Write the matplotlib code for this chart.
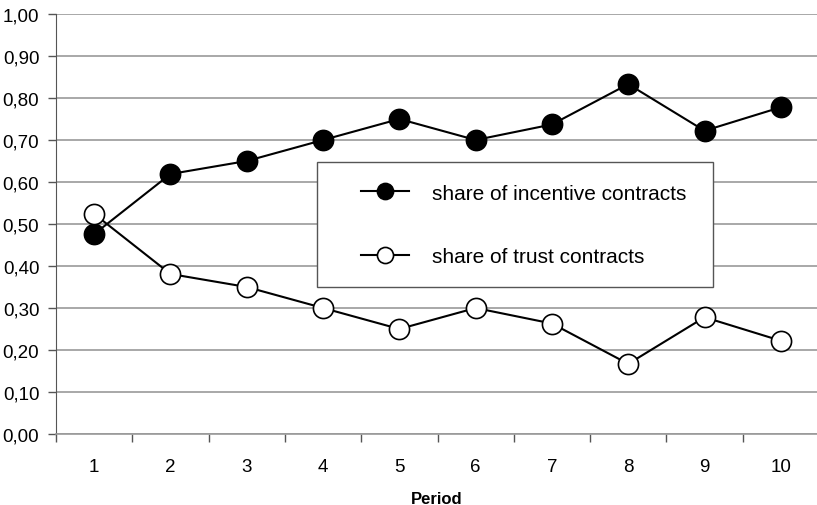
import matplotlib.pyplot as plt
from matplotlib.patches import Rectangle

plt.rcParams['font.family'] = ['Liberation Sans', 'DejaVu Sans']

periods = [1, 2, 3, 4, 5, 6, 7, 8, 9, 10]
incentive = [0.476, 0.619, 0.650, 0.700, 0.750, 0.700, 0.737, 0.833, 0.722, 0.778]
trust = [0.524, 0.381, 0.350, 0.300, 0.250, 0.300, 0.263, 0.167, 0.278, 0.222]
y_ticks = [0.0, 0.1, 0.2, 0.3, 0.4, 0.5, 0.6, 0.7, 0.8, 0.9, 1.0]

fig = plt.figure(figsize=(8.17, 5.06), dpi=100)
ax = fig.add_axes([56 / 817, 71 / 506, 761 / 817, 420 / 506])

ax.plot(periods, incentive, color='black', lw=1.5, marker='o', ms=14.5,
        mfc='black', mec='black', mew=1.2, zorder=5, clip_on=False,
        label='share of incentive contracts')
ax.plot(periods, trust, color='black', lw=1.5, marker='o', ms=14.5,
        mfc='white', mec='black', mew=1.2, zorder=5, clip_on=False,
        label='share of trust contracts')

ax.set_xlim(0.5, 0.5 + 761 / 76.3)
ax.set_ylim(0, 1)
ax.set_yticks(y_ticks)
ax.set_yticklabels([('%.2f' % v).replace('.', ',') for v in y_ticks])
ax.set_xticks(periods)
ax.set_xticklabels([str(p) for p in periods])
ax.set_xticks([p + 0.5 for p in periods[:-1]] + [0.5], minor=True)
ax.tick_params(axis='x', which='major', length=0, pad=17, labelsize=13.5)
ax.tick_params(axis='x', which='minor', length=6, width=1, color='#555555',
               direction='out')
ax.tick_params(axis='y', length=6, width=1, color='#555555', pad=6,
               labelsize=13.5)

ax.yaxis.grid(True, color='#999999', lw=1.2)
ax.set_axisbelow(True)
for s in ['top', 'right']:
    ax.spines[s].set_visible(False)
ax.spines['left'].set_color('#555555')
ax.spines['bottom'].set_color('#999999')
ax.spines['bottom'].set_linewidth(1.2)

ax.set_xlabel('Period', fontweight='bold', fontsize=12, labelpad=12)

box = Rectangle((317 / 817, (506 - 288) / 506), 396 / 817, 125 / 506,
                transform=fig.transFigure, facecolor='white',
                edgecolor='#555555', lw=1, zorder=3)
fig.patches.append(box)

leg = fig.legend(loc='center left', bbox_to_anchor=(351 / 817, (506 - 226) / 506),
                 frameon=False, borderpad=0, fontsize=15, handlelength=2.3,
                 handletextpad=1.1, labelspacing=2.15, markerscale=0.8)
leg.set_zorder(6)

fig.savefig('out.png', dpi=100)
